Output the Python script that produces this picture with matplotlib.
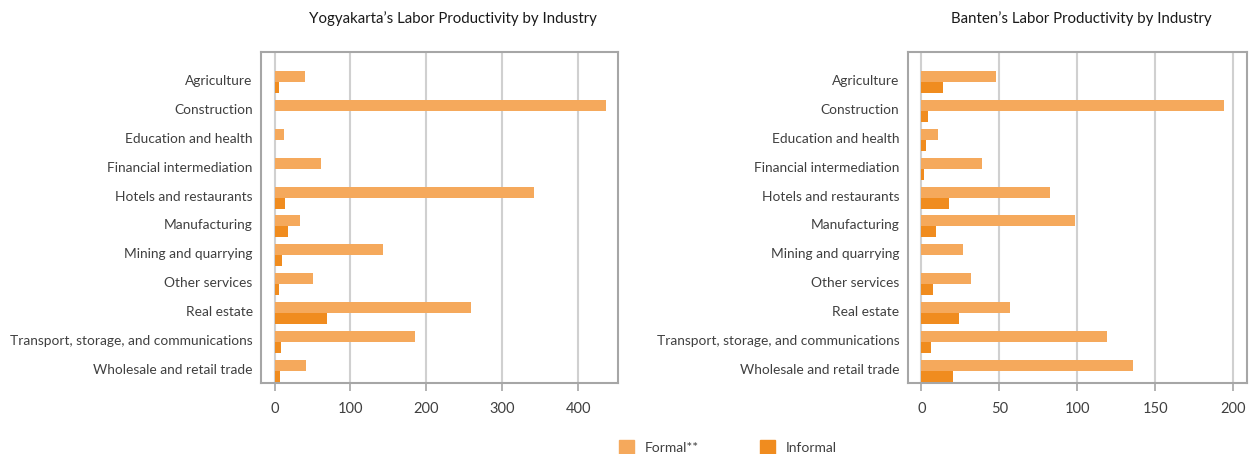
import numpy as np
import matplotlib
matplotlib.use('Agg')
import matplotlib.pyplot as plt
from matplotlib.patches import Patch

plt.rcParams['font.family'] = ['Lato', 'DejaVu Sans']

industries = ['Agriculture', 'Construction', 'Education and health',
              'Financial intermediation', 'Hotels and restaurants',
              'Manufacturing', 'Mining and quarrying', 'Other services',
              'Real estate', 'Transport, storage, and communications',
              'Wholesale and retail trade']

# Yogyakarta
yog_formal = [39.6, 437, 11.9, 60.8, 342, 33, 142.7, 50.2, 259, 185, 41]
yog_informal = [5.3, 0.6, 0.6, 0.6, 13.2, 17.2, 9.3, 5.3, 68.7, 7.9, 6.6]

# Banten
ban_formal = [47.9, 194, 10.7, 38.9, 82.5, 98.5, 26.7, 31.8, 56.8, 119, 135.7]
ban_informal = [13.9, 4.3, 3.0, 1.7, 17.7, 9.4, 0, 7.5, 24.1, 6.2, 20.3]

c_formal = '#F5A95C'
c_informal = '#F08C1F'
txt = '#404040'
edge = '#A6A6A6'
grid = '#D0D0D0'


def draw_panel(ax, formal, informal, ticks, xlim):
    y = np.arange(len(industries))
    h = 0.38
    ax.barh(y - h / 2, formal, height=h, color=c_formal, zorder=3)
    ax.barh(y + h / 2, informal, height=h, color=c_informal, zorder=3)
    ax.set_yticks(y - 0.07)
    ax.set_yticklabels(industries, fontsize=9.9, color=txt)
    ax.set_ylim(10.42, -1.04)
    ax.set_xlim(*xlim)
    ax.set_xticks(ticks)
    ax.set_xticklabels([str(t) for t in ticks], fontsize=10.5, color=txt)
    ax.tick_params(axis='y', length=0, pad=6)
    ax.tick_params(axis='x', length=6, width=1.2, color=edge, pad=8)
    ax.xaxis.grid(True, color=grid, linewidth=1.5, zorder=0)
    for s in ax.spines.values():
        s.set_color(edge)
        s.set_linewidth(1.5)


fig = plt.figure(figsize=(12.56, 4.54), dpi=100)
ax1 = fig.add_axes([0.2078, 0.1564, 0.2845, 0.7291])
ax2 = fig.add_axes([0.7227, 0.1564, 0.2699, 0.7291])

draw_panel(ax1, yog_formal, yog_informal, [0, 100, 200, 300, 400], (-17.8, 452.6))
draw_panel(ax2, ban_formal, ban_informal, [0, 50, 100, 150, 200], (-8.7, 208.6))

fig.text(453 / 1256, 1 - 19 / 454, 'Yogyakarta\u2019s Labor Productivity by Industry',
         ha='center', va='center', fontsize=10.8, color='#1a1a1a')
fig.text(1081 / 1256, 1 - 19 / 454, 'Banten\u2019s Labor Productivity by Industry',
         ha='center', va='center', fontsize=10.8, color='#1a1a1a')

handles = [Patch(color=c_formal, label='Formal**'),
           Patch(color=c_informal, label='Informal')]
fig.legend(handles=handles, loc='center', bbox_to_anchor=(728 / 1256, 1 - 447 / 454),
           ncol=2, frameon=False, fontsize=10, handlelength=1.1, handleheight=1.1,
           columnspacing=4.4, handletextpad=0.75, labelcolor=txt)

fig.savefig('out.png', dpi=100)
